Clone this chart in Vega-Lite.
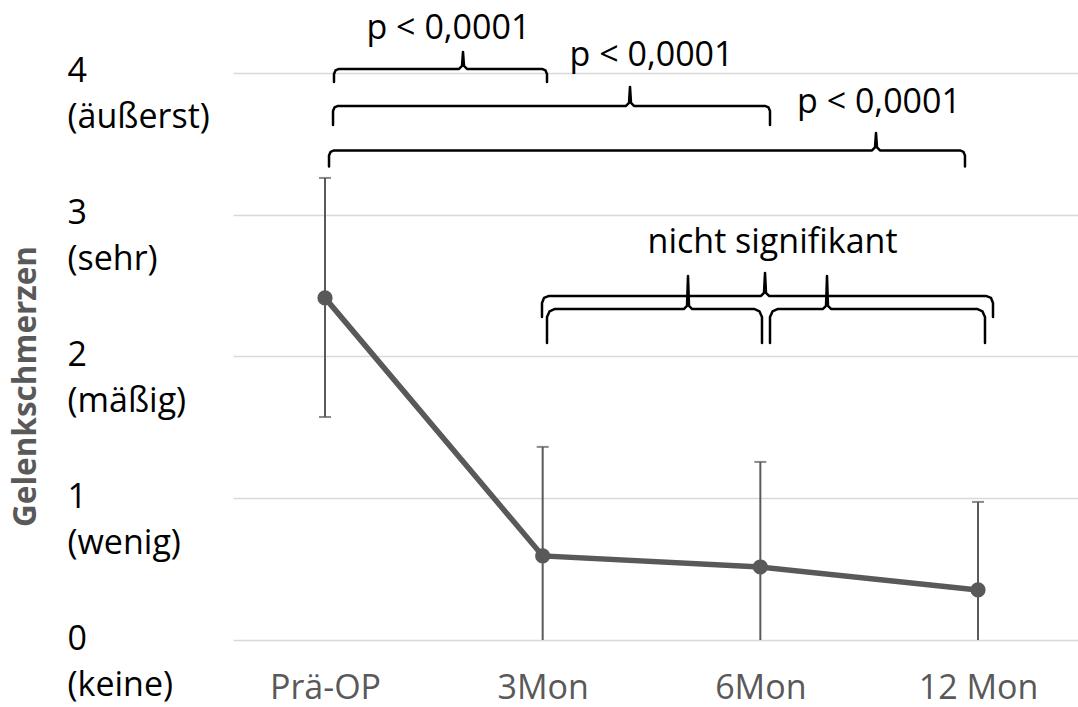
{
  "$schema": "https://vega.github.io/schema/vega-lite/v6.json",
  "width": 845,
  "height": 638,
  "autosize": {"type": "none"},
  "padding": {"left": 233, "top": 2, "right": 0, "bottom": 67},
  "background": "white",
  "config": {"view": {"stroke": null}},
  "datasets": {
    "werte": [
      {"x": 0, "zeitpunkt": "Prä-OP", "y": 2.413, "oben": 3.259, "unten": 1.573},
      {"x": 1, "zeitpunkt": "3Mon", "y": 0.593, "oben": 1.362, "unten": -0.176},
      {"x": 2, "zeitpunkt": "6Mon", "y": 0.515, "oben": 1.256, "unten": -0.226},
      {"x": 3, "zeitpunkt": "12 Mon", "y": 0.353, "oben": 0.974, "unten": -0.268}
    ],
    "klammern": [
      {"k": "A", "o": 1, "x": 0.0413, "y": 3.9365},
      {"k": "A", "o": 2, "x": 0.0413, "y": 3.9929},
      {"k": "A", "o": 3, "x": 0.0482, "y": 4.0176},
      {"k": "A", "o": 4, "x": 0.0643, "y": 4.0282},
      {"k": "A", "o": 5, "x": 0.6156, "y": 4.0282},
      {"k": "A", "o": 6, "x": 0.6294, "y": 4.0494},
      {"k": "A", "o": 7, "x": 0.6340, "y": 4.1481},
      {"k": "A", "o": 8, "x": 0.6386, "y": 4.0494},
      {"k": "A", "o": 9, "x": 0.6524, "y": 4.0282},
      {"k": "A", "o": 10, "x": 0.9969, "y": 4.0282},
      {"k": "A", "o": 11, "x": 1.0130, "y": 4.0176},
      {"k": "A", "o": 12, "x": 1.0199, "y": 3.9929},
      {"k": "A", "o": 13, "x": 1.0199, "y": 3.9365},

      {"k": "B", "o": 1, "x": 0.0368, "y": 3.6332},
      {"k": "B", "o": 2, "x": 0.0368, "y": 3.7319},
      {"k": "B", "o": 3, "x": 0.0436, "y": 3.7566},
      {"k": "B", "o": 4, "x": 0.0597, "y": 3.7672},
      {"k": "B", "o": 5, "x": 1.3828, "y": 3.7672},
      {"k": "B", "o": 6, "x": 1.3966, "y": 3.7884},
      {"k": "B", "o": 7, "x": 1.4012, "y": 3.9012},
      {"k": "B", "o": 8, "x": 1.4058, "y": 3.7884},
      {"k": "B", "o": 9, "x": 1.4196, "y": 3.7672},
      {"k": "B", "o": 10, "x": 2.0214, "y": 3.7672},
      {"k": "B", "o": 11, "x": 2.0375, "y": 3.7566},
      {"k": "B", "o": 12, "x": 2.0444, "y": 3.7319},
      {"k": "B", "o": 13, "x": 2.0444, "y": 3.6332},

      {"k": "C", "o": 1, "x": 0.0184, "y": 3.3404},
      {"k": "C", "o": 2, "x": 0.0184, "y": 3.4180},
      {"k": "C", "o": 3, "x": 0.0253, "y": 3.4427},
      {"k": "C", "o": 4, "x": 0.0413, "y": 3.4533},
      {"k": "C", "o": 5, "x": 2.5130, "y": 3.4533},
      {"k": "C", "o": 6, "x": 2.5268, "y": 3.4744},
      {"k": "C", "o": 7, "x": 2.5314, "y": 3.5767},
      {"k": "C", "o": 8, "x": 2.5360, "y": 3.4744},
      {"k": "C", "o": 9, "x": 2.5498, "y": 3.4533},
      {"k": "C", "o": 10, "x": 2.9173, "y": 3.4533},
      {"k": "C", "o": 11, "x": 2.9333, "y": 3.4427},
      {"k": "C", "o": 12, "x": 2.9402, "y": 3.4180},
      {"k": "C", "o": 13, "x": 2.9402, "y": 3.3404},

      {"k": "D", "o": 1, "x": 0.9969, "y": 2.2787},
      {"k": "D", "o": 2, "x": 0.9969, "y": 2.3774},
      {"k": "D", "o": 3, "x": 1.0061, "y": 2.4127},
      {"k": "D", "o": 4, "x": 1.0291, "y": 2.4268},
      {"k": "D", "o": 5, "x": 2.0030, "y": 2.4268},
      {"k": "D", "o": 6, "x": 2.0168, "y": 2.4480},
      {"k": "D", "o": 7, "x": 2.0214, "y": 2.5891},
      {"k": "D", "o": 8, "x": 2.0260, "y": 2.4480},
      {"k": "D", "o": 9, "x": 2.0398, "y": 2.4268},
      {"k": "D", "o": 10, "x": 3.0367, "y": 2.4268},
      {"k": "D", "o": 11, "x": 3.0597, "y": 2.4127},
      {"k": "D", "o": 12, "x": 3.0689, "y": 2.3774},
      {"k": "D", "o": 13, "x": 3.0689, "y": 2.2787},

      {"k": "E", "o": 1, "x": 1.0199, "y": 2.0952},
      {"k": "E", "o": 2, "x": 1.0199, "y": 2.2787},
      {"k": "E", "o": 3, "x": 1.0314, "y": 2.3175},
      {"k": "E", "o": 4, "x": 1.0567, "y": 2.3351},
      {"k": "E", "o": 5, "x": 1.6493, "y": 2.3351},
      {"k": "E", "o": 6, "x": 1.6631, "y": 2.3563},
      {"k": "E", "o": 7, "x": 1.6677, "y": 2.5679},
      {"k": "E", "o": 8, "x": 1.6723, "y": 2.3563},
      {"k": "E", "o": 9, "x": 1.6860, "y": 2.3351},
      {"k": "E", "o": 10, "x": 1.9709, "y": 2.3351},
      {"k": "E", "o": 11, "x": 1.9962, "y": 2.3175},
      {"k": "E", "o": 12, "x": 2.0076, "y": 2.2787},
      {"k": "E", "o": 13, "x": 2.0076, "y": 2.0952},

      {"k": "F", "o": 1, "x": 2.0444, "y": 2.0952},
      {"k": "F", "o": 2, "x": 2.0444, "y": 2.2787},
      {"k": "F", "o": 3, "x": 2.0559, "y": 2.3175},
      {"k": "F", "o": 4, "x": 2.0811, "y": 2.3351},
      {"k": "F", "o": 5, "x": 2.2879, "y": 2.3351},
      {"k": "F", "o": 6, "x": 2.3017, "y": 2.3563},
      {"k": "F", "o": 7, "x": 2.3063, "y": 2.5679},
      {"k": "F", "o": 8, "x": 2.3108, "y": 2.3563},
      {"k": "F", "o": 9, "x": 2.3246, "y": 2.3351},
      {"k": "F", "o": 10, "x": 2.9954, "y": 2.3351},
      {"k": "F", "o": 11, "x": 3.0206, "y": 2.3175},
      {"k": "F", "o": 12, "x": 3.0321, "y": 2.2787},
      {"k": "F", "o": 13, "x": 3.0321, "y": 2.0952}
    ],
    "texte": [
      {"x": 0.567, "y": 4.240, "t": "p < 0,0001"},
      {"x": 1.500, "y": 4.049, "t": "p < 0,0001"},
      {"x": 2.545, "y": 3.718, "t": "p < 0,0001"},
      {"x": 2.056, "y": 2.730, "t": "nicht signifikant"}
    ]
  },
  "encoding": {
    "x": {
      "field": "x",
      "type": "quantitative",
      "scale": {"domain": [-0.4227, 3.4594], "nice": false, "zero": false},
      "axis": {
        "values": [0, 1, 2, 3],
        "labelExpr": "['Prä-OP','3Mon','6Mon','12 Mon'][datum.value]",
        "grid": false,
        "domain": false,
        "ticks": false,
        "tickSize": 0,
        "labelFont": "Open Sans",
        "labelFontSize": 34,
        "labelColor": "#595959",
        "labelAlign": "center",
        "labelBaseline": "alphabetic",
        "labelPadding": 58,
        "labelOverlap": false,
        "labelFlush": false,
        "labelBound": false,
        "title": null
      }
    },
    "y": {
      "field": "y",
      "type": "quantitative",
      "scale": {"domain": [0, 4.5], "nice": false, "zero": false},
      "axis": {
        "values": [0, 1, 2, 3, 4],
        "labelExpr": "[datum.label, ['(keine)','(wenig)','(mäßig)','(sehr)','(äußerst)'][datum.value]]",
        "grid": true,
        "gridColor": "#d9d9d9",
        "gridWidth": 1.5,
        "domain": false,
        "ticks": false,
        "tickSize": 0,
        "labelFont": "Open Sans",
        "labelFontSize": 34,
        "labelColor": "#000000",
        "labelAlign": "left",
        "labelBaseline": "middle",
        "labelPadding": 166,
        "labelOffset": -1,
        "labelLineHeight": 46,
        "labelOverlap": false,
        "labelFlush": false,
        "labelBound": false,
        "title": "Gelenkschmerzen",
        "titleFont": "Open Sans",
        "titleFontSize": 31.5,
        "titleFontWeight": "bold",
        "titleColor": "#595959",
        "titleAngle": -90,
        "titleAlign": "center",
        "titleBaseline": "alphabetic",
        "titleX": -198,
        "titleY": 384
      }
    }
  },
  "layer": [
    {
      "data": {"name": "werte"},
      "mark": {"type": "rule", "color": "#595959", "strokeWidth": 2, "clip": true},
      "encoding": {"y2": {"field": "oben"}}
    },
    {
      "data": {"name": "werte"},
      "transform": [{"filter": "datum.unten > 0"}],
      "mark": {"type": "rule", "color": "#595959", "strokeWidth": 2},
      "encoding": {"y2": {"field": "unten"}}
    },
    {
      "data": {"name": "werte"},
      "transform": [{"filter": "datum.unten <= 0"}],
      "mark": {"type": "rule", "color": "#595959", "strokeWidth": 2},
      "encoding": {"y2": {"datum": 0}}
    },
    {
      "data": {"name": "werte"},
      "mark": {"type": "tick", "orient": "horizontal", "color": "#595959", "size": 12, "thickness": 2},
      "encoding": {"y": {"field": "oben", "type": "quantitative"}}
    },
    {
      "data": {"name": "werte"},
      "transform": [{"filter": "datum.unten > 0"}],
      "mark": {"type": "tick", "orient": "horizontal", "color": "#595959", "size": 12, "thickness": 2},
      "encoding": {"y": {"field": "unten", "type": "quantitative"}}
    },
    {
      "data": {"name": "werte"},
      "mark": {"type": "line", "color": "#595959", "strokeWidth": 5.5},
      "encoding": {}
    },
    {
      "data": {"name": "werte"},
      "mark": {"type": "point", "filled": true, "color": "#595959", "opacity": 1, "size": 230},
      "encoding": {}
    },
    {
      "data": {"name": "klammern"},
      "mark": {"type": "line", "color": "#000000", "strokeWidth": 2.5, "strokeCap": "round", "strokeJoin": "round"},
      "encoding": {
        "detail": {"field": "k", "type": "nominal"},
        "order": {"field": "o", "type": "quantitative"}
      }
    },
    {
      "data": {"name": "texte"},
      "mark": {"type": "text", "font": "Open Sans", "fontSize": 34, "color": "#000000", "align": "center", "baseline": "alphabetic"},
      "encoding": {"text": {"field": "t"}}
    }
  ]
}
